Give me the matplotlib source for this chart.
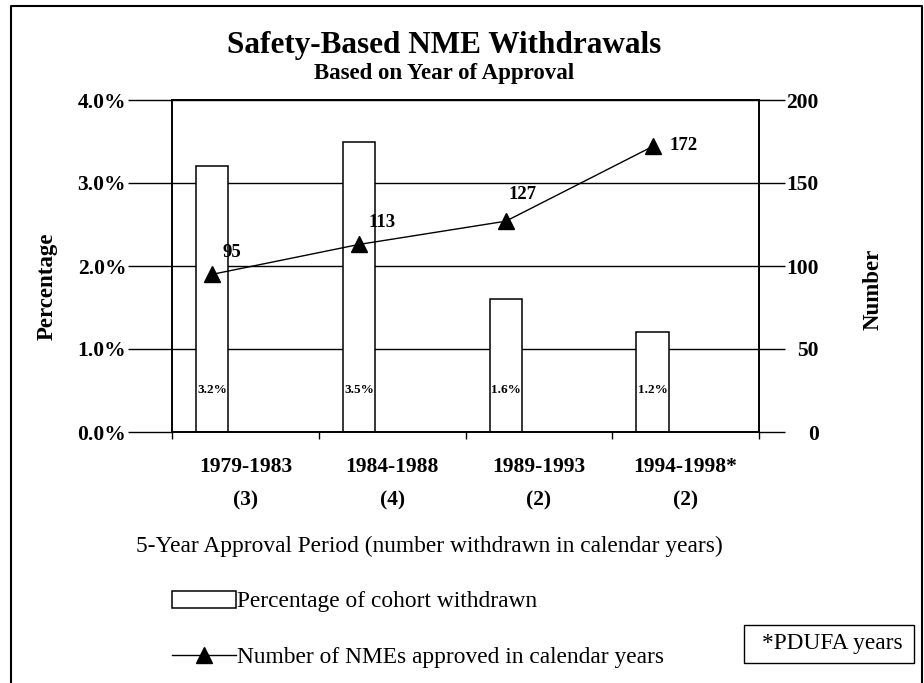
import matplotlib
matplotlib.use("Agg")
import matplotlib.pyplot as plt
from matplotlib.lines import Line2D
from matplotlib.patches import Rectangle

plt.rcParams['font.family'] = ['Liberation Serif', 'DejaVu Serif']

# データ
periods = ["1979-1983", "1984-1988", "1989-1993", "1994-1998*"]
withdrawn_counts = ["(3)", "(4)", "(2)", "(2)"]
pct_withdrawn = [3.2, 3.5, 1.6, 1.2]
nmes_approved = [95, 113, 127, 172]
pct_ticks = [0, 1, 2, 3, 4]
num_ticks = [0, 50, 100, 150, 200]

W, H = 924, 683
fig = plt.figure(figsize=(W / 100, H / 100), dpi=100)

def fx(px):
    return px / W

def fy(py):
    return 1 - py / H

ax = fig.add_axes([fx(172), fy(432), fx(759) - fx(172), fy(100) - fy(432)])
ax2 = ax.twinx()

x = list(range(len(periods)))
bx = [i - 0.225 for i in x]

# 棒グラフ
bars = ax.bar(bx, pct_withdrawn, width=0.22, color='white', edgecolor='black',
              linewidth=1.1, zorder=2, label='Percentage of cohort withdrawn')
for xi, v in zip(bx, pct_withdrawn):
    ax.annotate(f"{v:.1f}%", (xi, 0), xytext=(0, 30), textcoords='offset points',
                ha='center', va='center', fontsize=9.5, fontweight='bold')

ax.set_xlim(-0.5, 3.5)
ax.set_ylim(0, 4)
ax.set_yticks(pct_ticks)
ax.set_yticklabels([f"{t:.1f}%" for t in pct_ticks], fontsize=15.5, fontweight='bold')
ax.tick_params(axis='y', direction='out', length=32, width=1, pad=1)
ax.yaxis.grid(True, color='black', linewidth=1)
ax.set_axisbelow(True)

ax.set_xticks(x)
ax.set_xticklabels(periods, fontsize=15.5, fontweight='bold')
ax.tick_params(axis='x', which='major', length=0, pad=18)
ax.set_xticks([-0.5, 0.5, 1.5, 2.5, 3.5], minor=True)
ax.tick_params(axis='x', which='minor', direction='out', length=5, width=1)
for xi, c in zip(x, withdrawn_counts):
    ax.annotate(c, (xi, 0), xycoords=('data', 'axes fraction'), xytext=(0, -49),
                textcoords='offset points', ha='center', va='center',
                fontsize=15.5, fontweight='bold')

# 折れ線
line, = ax2.plot(bx, nmes_approved, color='black', linewidth=1, marker='^',
                 markersize=12, label='Number of NMEs approved in calendar years')
offsets = [(7, -16), (7, -16), (2, -19), (12, -1)]
for xi, v, off in zip(bx, nmes_approved, offsets):
    ax2.annotate(str(v), (xi, v), xytext=(off[0], -off[1]), textcoords='offset points',
                 ha='left', va='center', fontsize=13.5, fontweight='bold')

ax2.set_ylim(0, 200)
ax2.set_yticks(num_ticks)
ax2.set_yticklabels([str(t) for t in num_ticks], fontsize=15.5, fontweight='bold')
ax2.tick_params(axis='y', direction='out', length=19, width=1, pad=24)
for lab in ax2.get_yticklabels():
    lab.set_horizontalalignment('right')

for a in (ax, ax2):
    for s in a.spines.values():
        s.set_linewidth(1.2)

# タイトルとラベル
fig.text(fx(444), fy(46), "Safety-Based NME Withdrawals", ha='center', va='center',
         fontsize=22.5, fontweight='bold')
fig.text(fx(444), fy(74), "Based on Year of Approval", ha='center', va='center',
         fontsize=16.5, fontweight='bold')
fig.text(fx(47), fy(286), "Percentage", rotation=90, ha='center', va='center',
         fontsize=16.5, fontweight='bold')
fig.text(fx(873), fy(289), "Number", rotation=90, ha='center', va='center',
         fontsize=16.5, fontweight='bold')
fig.text(fx(136), fy(546), "5-Year Approval Period (number withdrawn in calendar years)",
         ha='left', va='center', fontsize=16.8)

# 凡例
fig.legend(handles=[bars, line], loc='upper left', bbox_to_anchor=(fx(172), fy(591)),
           frameon=False, fontsize=16.8, handlelength=2.75, handleheight=0.72,
           handletextpad=0.05, labelspacing=1.45, borderaxespad=0, borderpad=0)

fig.add_artist(Rectangle((fx(744), fy(663)), fx(914) - fx(744), fy(625) - fy(663),
                         transform=fig.transFigure, facecolor='white', edgecolor='black',
                         linewidth=1))
fig.text(fx(832), fy(644), "*PDUFA years", ha='center', va='center', fontsize=16.8)

# 外枠
fig.add_artist(Line2D([fx(11), fx(11), fx(922), fx(922)], [0, fy(6), fy(6), 0],
                      transform=fig.transFigure, color='black', linewidth=1.5))

fig.savefig("out.png", dpi=100)
